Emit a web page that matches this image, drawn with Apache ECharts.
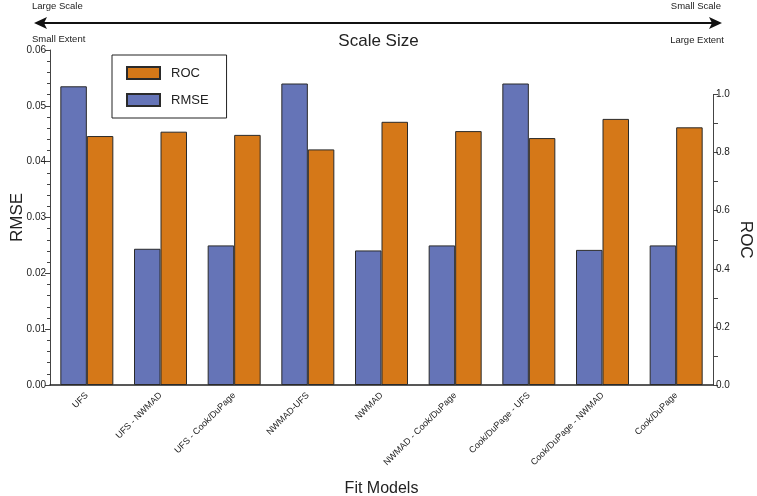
<!DOCTYPE html>
<html>
<head>
<meta charset="utf-8">
<script src="https://cdn.jsdelivr.net/npm/echarts@6/dist/echarts.min.js"></script>
<style>html,body{margin:0;padding:0;background:#fff}#c{width:757px;height:496px}</style>
</head>
<body>
<div id="c"></div>
<script>
const categories = ['UFS','UFS - NWMAD','UFS - Cook/DuPage','NWMAD-UFS','NWMAD','NWMAD - Cook/DuPage','Cook/DuPage - UFS','Cook/DuPage - NWMAD','Cook/DuPage'];
const rmse = [0.0535,0.0244,0.0250,0.0540,0.0241,0.0250,0.0540,0.0242,0.0250];
const roc = [0.857,0.872,0.861,0.811,0.906,0.874,0.850,0.916,0.887];
const rmseTicks = [0,0.01,0.02,0.03,0.04,0.05,0.06];
const rocTicks = [0,0.2,0.4,0.6,0.8,1.0];

const FONT = '"Liberation Sans", Arial, sans-serif';
const BLUE = '#6574B7';
const ORANGE = '#D57818';
const INK = '#222';
const empty = categories.map(() => null);

const chart = echarts.init(document.getElementById('c'), null, {renderer: 'canvas'});
chart.setOption({
  backgroundColor: '#fff',
  textStyle: {fontFamily: FONT, color: INK},
  animation: false,
  legend: {
    data: ['ROC', 'RMSE'],
    icon: 'rect',
    orient: 'vertical',
    left: 112, top: 55,
    padding: [11, 18, 11, 14],
    itemWidth: 33, itemHeight: 12, itemGap: 13,
    borderColor: '#222', borderWidth: 1,
    textStyle: {fontFamily: FONT, fontSize: 13, color: INK, padding: [0, 0, 0, 6]}
  },
  grid: [
    {left: 50, right: 44, top: 50, bottom: 111, containLabel: false, outerBoundsMode: 'none'},
    {left: 50, right: 44, top: 94.5, bottom: 111, containLabel: false, outerBoundsMode: 'none'}
  ],
  xAxis: [
    {
      type: 'category', gridIndex: 0, data: categories,
      axisLine: {lineStyle: {color: INK, width: 1.5}},
      axisTick: {show: false},
      axisLabel: {rotate: 45, fontSize: 9, color: INK, fontFamily: FONT, margin: 9, interval: 0},
      name: 'Fit Models', nameLocation: 'middle', nameGap: 96, nameMoveOverlap: false,
      nameTextStyle: {fontSize: 16, color: INK, fontFamily: FONT}
    },
    {
      type: 'category', gridIndex: 1, data: categories, show: false
    }
  ],
  yAxis: [
    {
      type: 'value', gridIndex: 0, min: 0, max: 0.06, interval: 0.01,
      axisLine: {show: true, lineStyle: {color: '#444', width: 1}},
      axisTick: {show: true, length: 5, lineStyle: {color: '#444'}},
      minorTick: {show: true, splitNumber: 5, length: 3, lineStyle: {color: '#444'}},
      splitLine: {show: false},
      axisLabel: {fontSize: 10, color: INK, fontFamily: FONT, margin: 4,
        formatter: v => rmseTicks.includes(Math.round(v*100)/100) ? v.toFixed(2) : ''},
      name: 'RMSE', nameLocation: 'middle', nameGap: 24, nameMoveOverlap: false,
      nameTextStyle: {fontSize: 17, color: INK, fontFamily: FONT}
    },
    {
      type: 'value', gridIndex: 1, position: 'right', min: 0, max: 1, interval: 0.2,
      axisLine: {show: true, lineStyle: {color: '#444', width: 1}},
      axisTick: {show: true, length: 5, lineStyle: {color: '#444'}},
      minorTick: {show: true, splitNumber: 2, length: 5, lineStyle: {color: '#444'}},
      splitLine: {show: false},
      axisLabel: {fontSize: 10, color: INK, fontFamily: FONT, margin: 3,
        formatter: v => rocTicks.includes(Math.round(v*10)/10) ? v.toFixed(1) : ''},
      name: 'ROC', nameLocation: 'middle', nameGap: 24, nameRotate: -90, nameMoveOverlap: false,
      nameTextStyle: {fontSize: 17, color: INK, fontFamily: FONT}
    }
  ],
  series: [
    {
      name: 'RMSE', type: 'bar', xAxisIndex: 0, yAxisIndex: 0, data: rmse,
      barWidth: 26.5, barGap: '0%',
      itemStyle: {color: BLUE, borderColor: '#2a2a2a', borderWidth: 1}
    },
    {
      name: '_pad1', type: 'bar', xAxisIndex: 0, yAxisIndex: 0, data: empty,
      barWidth: 26.5, barGap: '0%', itemStyle: {color: 'transparent'}
    },
    {
      name: '_pad2', type: 'bar', xAxisIndex: 1, yAxisIndex: 1, data: empty,
      barWidth: 26.5, barGap: '0%', itemStyle: {color: 'transparent'}
    },
    {
      name: 'ROC', type: 'bar', xAxisIndex: 1, yAxisIndex: 1, data: roc,
      barWidth: 26.5, barGap: '0%',
      itemStyle: {color: ORANGE, borderColor: '#2a2a2a', borderWidth: 1}
    }
  ],
  graphic: [
    {type: 'line', shape: {x1: 42, y1: 23, x2: 714, y2: 23}, style: {stroke: '#111', lineWidth: 2}},
    {type: 'polygon', shape: {points: [[34, 23], [47, 17], [44, 23], [47, 29]]}, style: {fill: '#111'}},
    {type: 'polygon', shape: {points: [[722, 23], [709, 17], [712, 23], [709, 29]]}, style: {fill: '#111'}},
    {type: 'text', left: 32, top: 1, style: {text: 'Large Scale', fontSize: 9.5, fill: INK, fontFamily: FONT}},
    {type: 'text', left: 32, top: 34, style: {text: 'Small Extent', fontSize: 9.5, fill: INK, fontFamily: FONT}},
    {type: 'text', right: 36, top: 1, style: {text: 'Small Scale', fontSize: 9.5, fill: INK, fontFamily: FONT}},
    {type: 'text', right: 33, top: 35, style: {text: 'Large Extent', fontSize: 9.5, fill: INK, fontFamily: FONT}},
    {type: 'text', left: 'center', top: 33, style: {text: 'Scale Size', fontSize: 17, fill: INK, fontFamily: FONT}}
  ]
});
</script>
</body>
</html>
